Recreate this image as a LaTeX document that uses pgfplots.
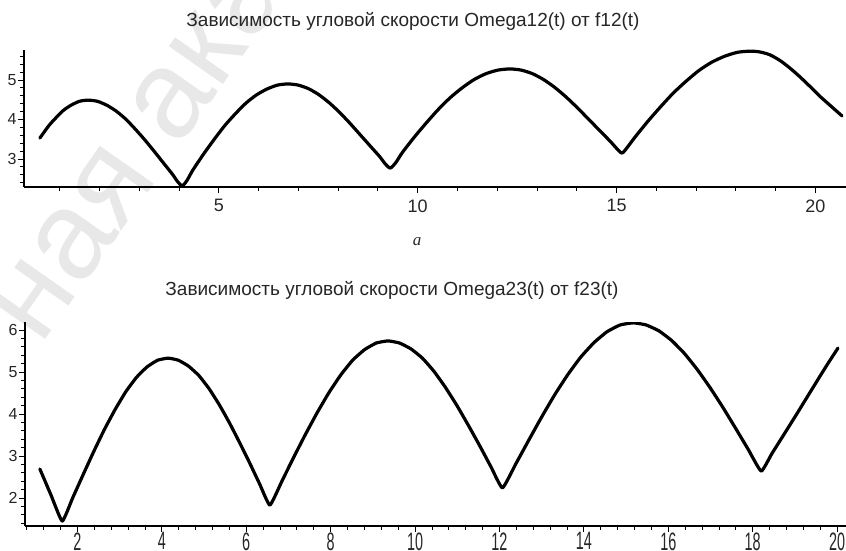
\documentclass[border=0pt]{standalone}
\usepackage{fontspec}
\setmainfont{Liberation Sans}
\newfontfamily\serifit{Liberation Serif}
\usepackage{pgfplots}
\pgfplotsset{compat=1.18}
\pgfplotstableread{
x y
0.50 3.53
0.746 3.87
1.067 4.21
1.28 4.36
1.494 4.46
1.71 4.49
1.947 4.46
2.184 4.36
2.421 4.21
2.658 4.01
2.895 3.76
3.132 3.49
3.369 3.20
3.606 2.90
3.843 2.60
3.96 2.43
4.08 2.32
4.20 2.46
4.346 2.72
4.612 3.12
4.878 3.49
5.144 3.84
5.41 4.14
5.676 4.41
5.942 4.62
6.208 4.77
6.474 4.87
6.74 4.90
6.997 4.87
7.254 4.78
7.511 4.63
7.768 4.43
8.025 4.19
8.282 3.92
8.539 3.63
8.796 3.34
9.053 3.05
9.18 2.88
9.31 2.77
9.45 2.91
9.611 3.16
9.912 3.55
10.213 3.91
10.514 4.25
10.815 4.55
11.116 4.80
11.417 5.01
11.718 5.16
12.019 5.25
12.32 5.28
12.602 5.25
12.884 5.16
13.166 5.01
13.448 4.81
13.73 4.57
14.012 4.30
14.294 4.01
14.576 3.72
14.858 3.43
15.00 3.27
15.14 3.15
15.29 3.32
15.462 3.55
15.784 3.95
16.106 4.32
16.428 4.67
16.75 4.97
17.072 5.24
17.394 5.45
17.716 5.60
18.038 5.70
18.36 5.73
18.6 5.71
18.85 5.64
19.1 5.50
19.35 5.31
19.6 5.09
19.85 4.85
20.1 4.60
20.4 4.33
20.67 4.09
}\omegaA
\pgfplotstableread{
x y
1.11 2.69
1.37 2.08
1.64 1.45
1.891 2.01
2.142 2.57
2.393 3.12
2.644 3.64
2.895 4.11
3.146 4.53
3.397 4.87
3.648 5.12
3.899 5.28
4.15 5.33
4.391 5.28
4.632 5.14
4.873 4.92
5.114 4.61
5.355 4.23
5.596 3.80
5.837 3.33
6.078 2.84
6.319 2.33
6.56 1.83
6.84 2.39
7.12 2.96
7.40 3.51
7.68 4.03
7.96 4.51
8.24 4.93
8.52 5.28
8.80 5.53
9.08 5.69
9.36 5.74
9.631 5.69
9.902 5.55
10.173 5.33
10.444 5.02
10.715 4.64
10.986 4.21
11.257 3.74
11.528 3.25
11.799 2.74
12.07 2.24
12.38 2.80
12.69 3.37
13.00 3.93
13.31 4.46
13.62 4.94
13.93 5.36
14.24 5.70
14.55 5.96
14.86 6.12
15.17 6.17
15.473 6.12
15.776 5.98
16.079 5.75
16.382 5.44
16.685 5.06
16.988 4.63
17.291 4.16
17.594 3.66
17.897 3.15
18.2 2.64
18.45 3.05
18.7 3.45
19.0 3.93
19.3 4.42
19.6 4.91
19.8 5.23
20.02 5.57
}\omegaB
\pgfplotsset{
  maple/.style={
    scale only axis, anchor=south west,
    axis x line=bottom, axis y line=left,
    axis line style={-, line width=1.1pt, black},
    tick align=outside,
    major tick length=6pt, minor tick length=4pt,
    every tick/.style={black, line width=0.9pt},
    every minor tick/.style={black, line width=0.9pt},
    tick label style={font=\fontsize{18}{18}\selectfont, text=black!85},
    /pgf/number format/assume math mode=true,
    yticklabel style={anchor=east, xshift=2pt, font=\fontsize{16}{16}\selectfont},
  }
}
\begin{document}
\begin{tikzpicture}[x=1pt,y=1pt]
\node[rotate=55, text=black!9, font=\fontsize{125}{125}\selectfont] at (139,402) {ная ака};
\node[anchor=base, font=\fontsize{19}{19}\selectfont, text=black!85] at (413,523) {Зависимость угловой скорости Omega12(t) от f12(t)};
\node[anchor=base, font=\fontsize{19}{19}\selectfont, text=black!85] at (392,255) {Зависимость угловой скорости Omega23(t) от f23(t)};
\node[anchor=base, font=\serifit\itshape\fontsize{17}{17}\selectfont, text=black!85] at (417,305) {a};
\begin{axis}[maple,
  at={(24pt,363pt)}, width=822pt, height=137pt,
  xmin=0.10, xmax=20.77, ymin=2.291, ymax=5.759,
  xtick={5,10,15,20},
  minor xtick={1,2,3,4,6,7,8,9,11,12,13,14,16,17,18,19},
  ytick={3,4,5},
  minor ytick={2.4,2.6,2.8,3.2,3.4,3.6,3.8,4.2,4.4,4.6,4.8,5.2,5.4,5.6},
  xticklabel style={anchor=north, yshift=-3pt},
]
\addplot[black, line width=3.2pt, smooth, tension=0.4, line join=round, line cap=round] table[x=x,y=y] {\omegaA};
\end{axis}
\begin{axis}[maple,
  at={(25pt,24pt)}, width=821pt, height=204pt,
  xmin=0.758, xmax=20.21, ymin=1.333, ymax=6.19,
  xtick={2,4,6,8,10,12,14,16,18,20},
  minor xtick={0.8,1.2,1.6,2.4,2.8,3.2,3.6,4.4,4.8,5.2,5.6,6.4,6.8,7.2,7.6,8.4,8.8,9.2,9.6,10.4,10.8,11.2,11.6,12.4,12.8,13.2,13.6,14.4,14.8,15.2,15.6,16.4,16.8,17.2,17.6,18.4,18.8,19.2,19.6},
  ytick={2,3,4,5,6},
  minor ytick={1.4,1.6,1.8,2.2,2.4,2.6,2.8,3.2,3.4,3.6,3.8,4.2,4.4,4.6,4.8,5.2,5.4,5.6,5.8},
  xticklabel={\scalebox{0.8}[1.4]{\pgfmathprintnumber{\tick}}},
  xticklabel style={anchor=north, yshift=3pt},
]
\addplot[black, line width=3.2pt, smooth, tension=0.25, line join=round, line cap=round] table[x=x,y=y] {\omegaB};
\end{axis}
\pgfresetboundingbox
\path[use as bounding box] (0,0) rectangle (846,550);
\end{tikzpicture}
\end{document}
